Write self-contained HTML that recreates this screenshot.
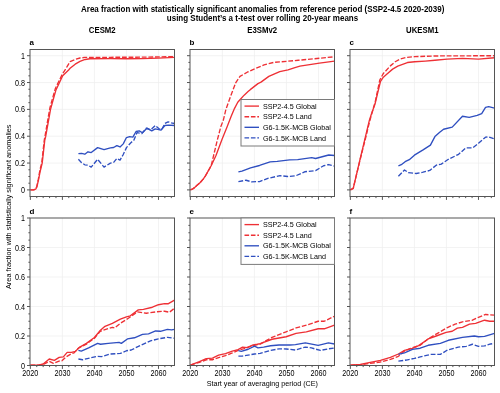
<!DOCTYPE html><html><head><meta charset="utf-8"><style>html,body{margin:0;padding:0;background:#fff;}svg{display:block;}text{font-family:"Liberation Sans",sans-serif;}svg{will-change:transform;}</style></head><body>
<svg width="500" height="393" viewBox="0 0 500 393">
<rect width="500" height="393" fill="#fff"/>
<text transform="translate(262.70 11.60) scale(1 1.07)" font-size="8.0" font-weight="bold" text-anchor="middle" fill="#000">Area fraction with statistically significant anomalies from reference period (SSP2-4.5 2020-2039)</text>
<text transform="translate(262.50 20.50) scale(1 1.07)" font-size="8.0" font-weight="bold" text-anchor="middle" fill="#000">using Student’s a t-test over rolling 20-year means</text>
<text transform="translate(102.25 33.00) scale(1 1.15)" font-size="7.8" font-weight="bold" text-anchor="middle" fill="#000">CESM2</text>
<text transform="translate(262.25 33.00) scale(1 1.15)" font-size="7.8" font-weight="bold" text-anchor="middle" fill="#000">E3SMv2</text>
<text transform="translate(422.25 33.00) scale(1 1.15)" font-size="7.8" font-weight="bold" text-anchor="middle" fill="#000">UKESM1</text>
<path d="M62.38 49.50V196.50M94.42 49.50V196.50M126.45 49.50V196.50M158.48 49.50V196.50M30.00 189.90H174.50M30.00 163.06H174.50M30.00 136.22H174.50M30.00 109.38H174.50M30.00 82.54H174.50M30.00 55.70H174.50" stroke="#eeeeee" stroke-width="0.7" fill="none"/>
<path d="M30.35 189.90 L33.55 189.90 L35.64 189.23 L36.76 187.22 L38.36 180.51 L39.96 172.45 L42.20 163.06 L44.77 140.11 L45.73 136.22 L48.61 120.12 L50.53 109.38 L53.09 99.99 L55.98 89.92 L59.50 82.54 L62.70 75.83 L68.63 69.93 L70.07 68.31 L75.20 64.15 L80.00 61.34 L85.13 59.46 L89.93 58.79 L110.43 58.65 L126.45 58.79 L142.47 58.65 L158.48 58.12 L174.50 57.31" stroke="#ee3035" stroke-width="1.35" fill="none" stroke-linejoin="round" clip-path="url(#clipa)"/>
<path d="M30.35 189.90 L33.55 189.90 L35.64 189.09 L36.76 186.55 L38.36 179.16 L39.96 169.77 L41.72 163.06 L44.28 140.11 L45.25 134.88 L47.97 118.77 L49.89 108.04 L52.45 98.64 L55.34 88.58 L58.86 81.20 L62.38 74.09 L65.59 69.12 L67.51 65.90 L70.07 61.74 L75.20 59.46 L80.00 57.98 L84.81 57.44 L110.43 57.31 L142.47 57.18 L174.50 56.64" stroke="#ee3035" stroke-width="1.35" fill="none" stroke-linejoin="round" stroke-dasharray="4.8 1.8" clip-path="url(#clipa)"/>
<path d="M78.40 153.67 L81.60 153.40 L84.81 154.20 L88.01 151.79 L91.21 152.59 L97.62 147.63 L104.03 149.64 L110.43 147.90 L113.64 147.49 L116.84 145.61 L120.04 146.96 L123.25 143.87 L126.45 137.56 L129.65 136.62 L132.86 137.16 L136.06 131.52 L139.26 130.85 L142.47 132.73 L146.95 128.17 L151.76 130.85 L155.28 128.84 L161.05 130.18 L164.89 125.48 L168.73 125.08 L174.50 125.48" stroke="#2f4fc0" stroke-width="1.35" fill="none" stroke-linejoin="round" clip-path="url(#clipa)"/>
<path d="M78.40 159.30 L81.60 162.66 L84.81 164.80 L88.01 165.21 L91.21 167.09 L97.62 159.30 L104.03 167.09 L110.43 163.06 L113.64 162.39 L116.84 158.50 L120.04 160.11 L123.25 154.47 L126.45 147.63 L130.61 142.93 L133.82 140.25 L137.02 132.60 L141.83 133.54 L146.31 128.17 L150.80 129.78 L155.28 125.48 L159.12 128.84 L161.69 129.51 L164.89 123.47 L168.09 121.86 L171.30 122.80 L174.50 123.47" stroke="#2f4fc0" stroke-width="1.35" fill="none" stroke-linejoin="round" stroke-dasharray="4.8 1.8" clip-path="url(#clipa)"/>
<clipPath id="clipa"><rect x="30.0" y="49.5" width="144.5" height="147.0"/></clipPath>
<path d="M30.35 196.50v3.4M36.76 196.50v1.6M43.16 196.50v1.6M49.57 196.50v1.6M55.98 196.50v1.6M62.38 196.50v3.4M68.79 196.50v1.6M75.20 196.50v1.6M81.60 196.50v1.6M88.01 196.50v1.6M94.42 196.50v3.4M100.82 196.50v1.6M107.23 196.50v1.6M113.64 196.50v1.6M120.04 196.50v1.6M126.45 196.50v3.4M132.86 196.50v1.6M139.26 196.50v1.6M145.67 196.50v1.6M152.08 196.50v1.6M158.48 196.50v3.4M164.89 196.50v1.6M171.30 196.50v1.6M30.00 189.90h-3M30.00 183.19h-1.6M30.00 176.48h-1.6M30.00 169.77h-1.6M30.00 163.06h-3M30.00 156.35h-1.6M30.00 149.64h-1.6M30.00 142.93h-1.6M30.00 136.22h-3M30.00 129.51h-1.6M30.00 122.80h-1.6M30.00 116.09h-1.6M30.00 109.38h-3M30.00 102.67h-1.6M30.00 95.96h-1.6M30.00 89.25h-1.6M30.00 82.54h-3M30.00 75.83h-1.6M30.00 69.12h-1.6M30.00 62.41h-1.6M30.00 55.70h-3" stroke="#555" stroke-width="1.0" fill="none"/>
<rect x="30.00" y="49.50" width="144.50" height="147.00" stroke="#555555" stroke-width="1.0" fill="none"/>
<text x="29.40" y="45.40" font-size="8" font-weight="bold">a</text>
<text transform="translate(24.90 192.90) scale(1 1.16)" font-size="7.2" text-anchor="end" fill="#000">0</text>
<text transform="translate(24.90 166.06) scale(1 1.16)" font-size="7.2" text-anchor="end" fill="#000">0.2</text>
<text transform="translate(24.90 139.22) scale(1 1.16)" font-size="7.2" text-anchor="end" fill="#000">0.4</text>
<text transform="translate(24.90 112.38) scale(1 1.16)" font-size="7.2" text-anchor="end" fill="#000">0.6</text>
<text transform="translate(24.90 85.54) scale(1 1.16)" font-size="7.2" text-anchor="end" fill="#000">0.8</text>
<text transform="translate(24.90 58.70) scale(1 1.16)" font-size="7.2" text-anchor="end" fill="#000">1</text>
<path d="M222.38 49.50V196.50M254.42 49.50V196.50M286.45 49.50V196.50M318.48 49.50V196.50M190.00 189.90H334.50M190.00 163.06H334.50M190.00 136.22H334.50M190.00 109.38H334.50M190.00 82.54H334.50M190.00 55.70H334.50" stroke="#eeeeee" stroke-width="0.7" fill="none"/>
<path d="M190.35 189.90 L192.27 189.23 L194.19 187.89 L196.76 185.61 L199.96 182.79 L203.16 179.16 L205.09 176.48 L211.17 165.74 L215.98 155.41 L222.06 139.31 L227.03 127.09 L231.19 116.36 L234.56 108.31 L237.76 102.27 L240.64 99.05 L244.17 95.15 L248.33 91.26 L250.25 89.65 L257.94 83.61 L260.98 82.14 L268.83 76.37 L279.72 71.54 L288.05 69.79 L294.14 67.78 L299.90 66.17 L319.44 63.08 L334.50 61.07" stroke="#ee3035" stroke-width="1.35" fill="none" stroke-linejoin="round" clip-path="url(#clipb)"/>
<path d="M190.35 189.90 L192.27 189.23 L194.19 187.89 L196.76 185.61 L199.96 182.79 L203.16 179.16 L205.09 176.48 L211.17 165.74 L217.26 140.25 L220.78 126.83 L223.34 120.12 L225.91 109.38 L230.71 95.96 L235.84 82.54 L240.00 76.37 L247.21 72.21 L255.06 68.58 L264.03 64.96 L273.64 62.41 L286.77 61.34 L298.30 60.26 L319.44 58.25 L334.50 56.77" stroke="#ee3035" stroke-width="1.35" fill="none" stroke-linejoin="round" stroke-dasharray="4.8 1.8" clip-path="url(#clipb)"/>
<path d="M238.40 171.92 L241.92 171.11 L250.57 167.89 L259.54 165.48 L270.11 161.85 L277.16 161.45 L289.65 159.84 L297.66 159.57 L311.76 157.69 L315.60 158.50 L328.73 155.01 L334.50 155.54" stroke="#2f4fc0" stroke-width="1.35" fill="none" stroke-linejoin="round" clip-path="url(#clipb)"/>
<path d="M238.40 181.58 L246.09 180.24 L251.53 181.85 L259.54 181.58 L267.87 178.36 L280.04 175.67 L287.73 176.48 L295.74 175.81 L304.71 171.78 L315.60 170.58 L323.61 165.74 L328.73 164.54 L334.50 166.15" stroke="#2f4fc0" stroke-width="1.35" fill="none" stroke-linejoin="round" stroke-dasharray="4.8 1.8" clip-path="url(#clipb)"/>
<clipPath id="clipb"><rect x="190.0" y="49.5" width="144.5" height="147.0"/></clipPath>
<path d="M190.35 196.50v3.4M196.76 196.50v1.6M203.16 196.50v1.6M209.57 196.50v1.6M215.98 196.50v1.6M222.38 196.50v3.4M228.79 196.50v1.6M235.20 196.50v1.6M241.60 196.50v1.6M248.01 196.50v1.6M254.42 196.50v3.4M260.82 196.50v1.6M267.23 196.50v1.6M273.64 196.50v1.6M280.04 196.50v1.6M286.45 196.50v3.4M292.86 196.50v1.6M299.26 196.50v1.6M305.67 196.50v1.6M312.08 196.50v1.6M318.48 196.50v3.4M324.89 196.50v1.6M331.30 196.50v1.6M190.00 189.90h-3M190.00 183.19h-1.6M190.00 176.48h-1.6M190.00 169.77h-1.6M190.00 163.06h-3M190.00 156.35h-1.6M190.00 149.64h-1.6M190.00 142.93h-1.6M190.00 136.22h-3M190.00 129.51h-1.6M190.00 122.80h-1.6M190.00 116.09h-1.6M190.00 109.38h-3M190.00 102.67h-1.6M190.00 95.96h-1.6M190.00 89.25h-1.6M190.00 82.54h-3M190.00 75.83h-1.6M190.00 69.12h-1.6M190.00 62.41h-1.6M190.00 55.70h-3" stroke="#555" stroke-width="1.0" fill="none"/>
<rect x="190.00" y="49.50" width="144.50" height="147.00" stroke="#555555" stroke-width="1.0" fill="none"/>
<text x="189.40" y="45.40" font-size="8" font-weight="bold">b</text>
<path d="M382.38 49.50V196.50M414.42 49.50V196.50M446.45 49.50V196.50M478.48 49.50V196.50M350.00 189.90H494.50M350.00 163.06H494.50M350.00 136.22H494.50M350.00 109.38H494.50M350.00 82.54H494.50M350.00 55.70H494.50" stroke="#eeeeee" stroke-width="0.7" fill="none"/>
<path d="M350.35 189.90 L353.23 188.29 L360.28 158.36 L366.37 132.87 L369.41 120.12 L371.17 114.75 L375.02 104.01 L377.58 93.28 L380.40 81.73 L383.34 77.17 L387.00 73.95 L392.63 69.12 L397.76 66.17 L407.37 62.54 L414.61 61.74 L425.31 61.07 L434.92 60.26 L447.09 59.06 L462.47 58.38 L478.48 59.06 L494.50 57.71" stroke="#ee3035" stroke-width="1.35" fill="none" stroke-linejoin="round" clip-path="url(#clipc)"/>
<path d="M350.35 189.90 L353.23 188.29 L360.28 159.03 L366.37 134.88 L369.25 122.80 L371.49 114.75 L375.34 101.33 L377.58 90.59 L379.79 79.99 L383.41 73.41 L390.62 65.63 L395.20 61.74 L400.19 59.06 L406.22 57.44 L414.61 56.64 L434.92 55.97 L494.50 55.70" stroke="#ee3035" stroke-width="1.35" fill="none" stroke-linejoin="round" stroke-dasharray="4.8 1.8" clip-path="url(#clipc)"/>
<path d="M398.40 165.88 L401.28 164.67 L405.13 161.72 L409.29 159.71 L414.42 155.14 L423.07 149.91 L430.43 145.08 L434.92 136.62 L439.72 132.19 L443.57 129.24 L452.22 127.09 L462.47 116.22 L469.19 117.43 L477.20 115.42 L481.69 113.54 L485.53 107.37 L488.73 106.70 L494.50 108.04" stroke="#2f4fc0" stroke-width="1.35" fill="none" stroke-linejoin="round" clip-path="url(#clipc)"/>
<path d="M398.40 176.21 L404.49 170.04 L408.33 172.59 L416.34 173.53 L423.07 172.19 L429.79 170.44 L436.20 165.21 L441.32 164.13 L448.37 159.30 L458.62 154.34 L465.67 147.90 L472.72 147.90 L478.48 143.33 L485.53 137.16 L488.73 136.89 L494.50 138.90" stroke="#2f4fc0" stroke-width="1.35" fill="none" stroke-linejoin="round" stroke-dasharray="4.8 1.8" clip-path="url(#clipc)"/>
<clipPath id="clipc"><rect x="350.0" y="49.5" width="144.5" height="147.0"/></clipPath>
<path d="M350.35 196.50v3.4M356.76 196.50v1.6M363.16 196.50v1.6M369.57 196.50v1.6M375.98 196.50v1.6M382.38 196.50v3.4M388.79 196.50v1.6M395.20 196.50v1.6M401.60 196.50v1.6M408.01 196.50v1.6M414.42 196.50v3.4M420.82 196.50v1.6M427.23 196.50v1.6M433.64 196.50v1.6M440.04 196.50v1.6M446.45 196.50v3.4M452.86 196.50v1.6M459.26 196.50v1.6M465.67 196.50v1.6M472.08 196.50v1.6M478.48 196.50v3.4M484.89 196.50v1.6M491.30 196.50v1.6M350.00 189.90h-3M350.00 183.19h-1.6M350.00 176.48h-1.6M350.00 169.77h-1.6M350.00 163.06h-3M350.00 156.35h-1.6M350.00 149.64h-1.6M350.00 142.93h-1.6M350.00 136.22h-3M350.00 129.51h-1.6M350.00 122.80h-1.6M350.00 116.09h-1.6M350.00 109.38h-3M350.00 102.67h-1.6M350.00 95.96h-1.6M350.00 89.25h-1.6M350.00 82.54h-3M350.00 75.83h-1.6M350.00 69.12h-1.6M350.00 62.41h-1.6M350.00 55.70h-3" stroke="#555" stroke-width="1.0" fill="none"/>
<rect x="350.00" y="49.50" width="144.50" height="147.00" stroke="#555555" stroke-width="1.0" fill="none"/>
<text x="349.40" y="45.40" font-size="8" font-weight="bold">c</text>
<path d="M62.38 218.00V365.50M94.42 218.00V365.50M126.45 218.00V365.50M158.48 218.00V365.50M30.00 336.00H174.50M30.00 306.50H174.50M30.00 277.00H174.50M30.00 247.50H174.50" stroke="#eeeeee" stroke-width="0.7" fill="none"/>
<path d="M30.35 365.06 L38.36 365.06 L43.16 364.02 L49.25 359.01 L54.38 360.34 L59.18 357.39 L63.34 356.94 L67.19 352.37 L71.35 352.37 L75.52 351.34 L79.36 347.36 L86.41 343.38 L94.42 337.48 L99.86 330.84 L104.99 326.26 L112.36 323.31 L120.36 319.19 L126.45 316.82 L130.29 315.79 L138.30 309.89 L143.43 309.30 L152.40 307.24 L158.48 304.73 L164.57 303.70 L168.41 303.70 L174.50 300.16" stroke="#ee3035" stroke-width="1.35" fill="none" stroke-linejoin="round" clip-path="url(#clipd)"/>
<path d="M30.35 365.06 L38.36 365.06 L43.16 364.47 L49.25 361.37 L53.41 363.44 L58.99 361.07 L61.90 360.78 L66.23 356.80 L71.19 353.85 L74.11 352.81 L78.40 348.10 L86.41 344.11 L94.42 338.21 L100.18 331.28 L112.36 327.30 L114.60 327.89 L120.36 323.31 L128.37 318.30 L137.34 311.81 L146.31 313.29 L156.56 311.81 L164.57 311.22 L169.37 312.25 L174.50 308.27" stroke="#ee3035" stroke-width="1.35" fill="none" stroke-linejoin="round" stroke-dasharray="4.8 1.8" clip-path="url(#clipd)"/>
<path d="M78.40 350.45 L81.28 351.05 L88.65 347.95 L97.62 343.38 L100.50 344.26 L108.19 343.38 L119.08 342.34 L121.32 343.38 L127.41 338.95 L134.46 337.77 L142.47 334.38 L148.55 333.94 L155.60 330.99 L160.41 331.28 L167.45 329.36 L171.62 329.95 L174.50 329.36" stroke="#2f4fc0" stroke-width="1.35" fill="none" stroke-linejoin="round" clip-path="url(#clipd)"/>
<path d="M78.40 359.01 L82.56 359.75 L92.49 357.39 L96.98 356.36 L101.46 356.65 L110.43 354.00 L120.36 353.40 L126.45 350.75 L131.25 350.01 L140.22 345.44 L150.48 340.87 L158.48 338.80 L167.45 337.33 L174.50 338.21" stroke="#2f4fc0" stroke-width="1.35" fill="none" stroke-linejoin="round" stroke-dasharray="4.8 1.8" clip-path="url(#clipd)"/>
<clipPath id="clipd"><rect x="30.0" y="218.0" width="144.5" height="147.5"/></clipPath>
<path d="M30.35 365.50v3.4M36.76 365.50v1.6M43.16 365.50v1.6M49.57 365.50v1.6M55.98 365.50v1.6M62.38 365.50v3.4M68.79 365.50v1.6M75.20 365.50v1.6M81.60 365.50v1.6M88.01 365.50v1.6M94.42 365.50v3.4M100.82 365.50v1.6M107.23 365.50v1.6M113.64 365.50v1.6M120.04 365.50v1.6M126.45 365.50v3.4M132.86 365.50v1.6M139.26 365.50v1.6M145.67 365.50v1.6M152.08 365.50v1.6M158.48 365.50v3.4M164.89 365.50v1.6M171.30 365.50v1.6M30.00 365.50h-3M30.00 358.12h-1.6M30.00 350.75h-1.6M30.00 343.38h-1.6M30.00 336.00h-3M30.00 328.62h-1.6M30.00 321.25h-1.6M30.00 313.88h-1.6M30.00 306.50h-3M30.00 299.12h-1.6M30.00 291.75h-1.6M30.00 284.38h-1.6M30.00 277.00h-3M30.00 269.62h-1.6M30.00 262.25h-1.6M30.00 254.88h-1.6M30.00 247.50h-3M30.00 240.12h-1.6M30.00 232.75h-1.6M30.00 225.38h-1.6M30.00 218.00h-3" stroke="#555" stroke-width="1.0" fill="none"/>
<rect x="30.00" y="218.00" width="144.50" height="147.50" stroke="#555555" stroke-width="1.0" fill="none"/>
<text x="29.40" y="213.90" font-size="8" font-weight="bold">d</text>
<text transform="translate(24.90 368.50) scale(1 1.16)" font-size="7.2" text-anchor="end" fill="#000">0</text>
<text transform="translate(24.90 339.00) scale(1 1.16)" font-size="7.2" text-anchor="end" fill="#000">0.2</text>
<text transform="translate(24.90 309.50) scale(1 1.16)" font-size="7.2" text-anchor="end" fill="#000">0.4</text>
<text transform="translate(24.90 280.00) scale(1 1.16)" font-size="7.2" text-anchor="end" fill="#000">0.6</text>
<text transform="translate(24.90 250.50) scale(1 1.16)" font-size="7.2" text-anchor="end" fill="#000">0.8</text>
<text transform="translate(24.90 221.00) scale(1 1.16)" font-size="7.2" text-anchor="end" fill="#000">1</text>
<text transform="translate(30.35 375.90) scale(1 1.16)" font-size="7.2" text-anchor="middle" fill="#000">2020</text>
<text transform="translate(62.38 375.90) scale(1 1.16)" font-size="7.2" text-anchor="middle" fill="#000">2030</text>
<text transform="translate(94.42 375.90) scale(1 1.16)" font-size="7.2" text-anchor="middle" fill="#000">2040</text>
<text transform="translate(126.45 375.90) scale(1 1.16)" font-size="7.2" text-anchor="middle" fill="#000">2050</text>
<text transform="translate(158.48 375.90) scale(1 1.16)" font-size="7.2" text-anchor="middle" fill="#000">2060</text>
<path d="M222.38 218.00V365.50M254.42 218.00V365.50M286.45 218.00V365.50M318.48 218.00V365.50M190.00 336.00H334.50M190.00 306.50H334.50M190.00 277.00H334.50M190.00 247.50H334.50" stroke="#eeeeee" stroke-width="0.7" fill="none"/>
<path d="M190.35 365.06 L199.42 361.52 L206.21 358.57 L212.45 358.12 L218.64 355.18 L225.46 353.55 L232.31 351.19 L238.08 349.57 L242.56 347.21 L247.37 347.65 L253.14 344.85 L257.30 344.26 L260.18 343.67 L272.03 339.25 L286.13 336.74 L296.06 333.35 L306.31 331.87 L318.16 328.77 L324.25 328.77 L334.50 325.23" stroke="#ee3035" stroke-width="1.35" fill="none" stroke-linejoin="round" clip-path="url(#clipe)"/>
<path d="M190.35 365.06 L199.42 362.40 L206.21 359.75 L212.45 359.75 L218.64 357.54 L225.46 355.62 L232.31 352.96 L238.08 350.31 L244.17 348.69 L250.25 346.32 L260.18 344.11 L272.03 337.33 L286.13 331.87 L296.06 327.89 L308.23 324.64 L318.16 321.25 L324.25 321.25 L334.50 316.24" stroke="#ee3035" stroke-width="1.35" fill="none" stroke-linejoin="round" stroke-dasharray="4.8 1.8" clip-path="url(#clipe)"/>
<path d="M238.40 350.60 L241.28 351.34 L248.20 349.27 L254.51 346.03 L258.00 347.80 L263.61 347.06 L270.59 345.74 L278.99 345.00 L289.97 345.00 L295.42 344.70 L305.35 342.93 L318.16 345.29 L328.41 342.93 L334.50 343.96" stroke="#2f4fc0" stroke-width="1.35" fill="none" stroke-linejoin="round" clip-path="url(#clipe)"/>
<path d="M238.40 356.06 L242.24 356.06 L254.42 354.00 L260.18 353.40 L270.11 350.45 L279.08 348.83 L286.13 348.98 L295.42 350.01 L305.35 347.06 L311.44 347.95 L320.41 350.45 L328.41 348.83 L334.50 347.95" stroke="#2f4fc0" stroke-width="1.35" fill="none" stroke-linejoin="round" stroke-dasharray="4.8 1.8" clip-path="url(#clipe)"/>
<clipPath id="clipe"><rect x="190.0" y="218.0" width="144.5" height="147.5"/></clipPath>
<path d="M190.35 365.50v3.4M196.76 365.50v1.6M203.16 365.50v1.6M209.57 365.50v1.6M215.98 365.50v1.6M222.38 365.50v3.4M228.79 365.50v1.6M235.20 365.50v1.6M241.60 365.50v1.6M248.01 365.50v1.6M254.42 365.50v3.4M260.82 365.50v1.6M267.23 365.50v1.6M273.64 365.50v1.6M280.04 365.50v1.6M286.45 365.50v3.4M292.86 365.50v1.6M299.26 365.50v1.6M305.67 365.50v1.6M312.08 365.50v1.6M318.48 365.50v3.4M324.89 365.50v1.6M331.30 365.50v1.6M190.00 365.50h-3M190.00 358.12h-1.6M190.00 350.75h-1.6M190.00 343.38h-1.6M190.00 336.00h-3M190.00 328.62h-1.6M190.00 321.25h-1.6M190.00 313.88h-1.6M190.00 306.50h-3M190.00 299.12h-1.6M190.00 291.75h-1.6M190.00 284.38h-1.6M190.00 277.00h-3M190.00 269.62h-1.6M190.00 262.25h-1.6M190.00 254.88h-1.6M190.00 247.50h-3M190.00 240.12h-1.6M190.00 232.75h-1.6M190.00 225.38h-1.6M190.00 218.00h-3" stroke="#555" stroke-width="1.0" fill="none"/>
<rect x="190.00" y="218.00" width="144.50" height="147.50" stroke="#555555" stroke-width="1.0" fill="none"/>
<text x="189.40" y="213.90" font-size="8" font-weight="bold">e</text>
<text transform="translate(190.35 375.90) scale(1 1.16)" font-size="7.2" text-anchor="middle" fill="#000">2020</text>
<text transform="translate(222.38 375.90) scale(1 1.16)" font-size="7.2" text-anchor="middle" fill="#000">2030</text>
<text transform="translate(254.42 375.90) scale(1 1.16)" font-size="7.2" text-anchor="middle" fill="#000">2040</text>
<text transform="translate(286.45 375.90) scale(1 1.16)" font-size="7.2" text-anchor="middle" fill="#000">2050</text>
<text transform="translate(318.48 375.90) scale(1 1.16)" font-size="7.2" text-anchor="middle" fill="#000">2060</text>
<path d="M382.38 218.00V365.50M414.42 218.00V365.50M446.45 218.00V365.50M478.48 218.00V365.50M350.00 336.00H494.50M350.00 306.50H494.50M350.00 277.00H494.50M350.00 247.50H494.50" stroke="#eeeeee" stroke-width="0.7" fill="none"/>
<path d="M350.35 365.06 L360.28 364.47 L370.21 362.40 L380.46 360.34 L390.39 357.39 L398.40 354.00 L404.49 350.45 L412.49 348.39 L418.58 345.59 L428.19 338.95 L436.20 336.00 L446.13 332.31 L452.22 331.28 L457.34 328.18 L462.47 327.30 L469.51 324.20 L475.60 323.31 L484.57 320.22 L489.69 321.25 L494.50 321.25" stroke="#ee3035" stroke-width="1.35" fill="none" stroke-linejoin="round" clip-path="url(#clipf)"/>
<path d="M350.35 365.06 L360.28 364.76 L370.21 363.44 L380.46 361.96 L390.39 359.45 L398.40 356.36 L404.49 351.05 L410.57 348.39 L420.18 345.29 L428.19 338.80 L437.99 333.05 L447.89 327.30 L455.10 324.20 L462.47 321.84 L472.40 320.22 L478.48 317.27 L485.53 314.47 L494.50 315.20" stroke="#ee3035" stroke-width="1.35" fill="none" stroke-linejoin="round" stroke-dasharray="4.8 1.8" clip-path="url(#clipf)"/>
<path d="M398.40 354.44 L404.49 352.81 L412.49 349.42 L420.18 348.24 L428.19 345.29 L440.36 343.38 L448.37 340.28 L462.47 337.33 L474.32 336.00 L478.48 336.74 L484.57 336.30 L494.50 333.35" stroke="#2f4fc0" stroke-width="1.35" fill="none" stroke-linejoin="round" clip-path="url(#clipf)"/>
<path d="M398.40 361.07 L406.41 360.04 L414.42 358.42 L420.18 356.94 L430.43 354.44 L440.36 354.44 L447.41 350.01 L458.30 347.06 L466.31 346.32 L472.40 344.26 L478.48 346.32 L484.57 345.88 L490.66 343.96 L494.50 343.38" stroke="#2f4fc0" stroke-width="1.35" fill="none" stroke-linejoin="round" stroke-dasharray="4.8 1.8" clip-path="url(#clipf)"/>
<clipPath id="clipf"><rect x="350.0" y="218.0" width="144.5" height="147.5"/></clipPath>
<path d="M350.35 365.50v3.4M356.76 365.50v1.6M363.16 365.50v1.6M369.57 365.50v1.6M375.98 365.50v1.6M382.38 365.50v3.4M388.79 365.50v1.6M395.20 365.50v1.6M401.60 365.50v1.6M408.01 365.50v1.6M414.42 365.50v3.4M420.82 365.50v1.6M427.23 365.50v1.6M433.64 365.50v1.6M440.04 365.50v1.6M446.45 365.50v3.4M452.86 365.50v1.6M459.26 365.50v1.6M465.67 365.50v1.6M472.08 365.50v1.6M478.48 365.50v3.4M484.89 365.50v1.6M491.30 365.50v1.6M350.00 365.50h-3M350.00 358.12h-1.6M350.00 350.75h-1.6M350.00 343.38h-1.6M350.00 336.00h-3M350.00 328.62h-1.6M350.00 321.25h-1.6M350.00 313.88h-1.6M350.00 306.50h-3M350.00 299.12h-1.6M350.00 291.75h-1.6M350.00 284.38h-1.6M350.00 277.00h-3M350.00 269.62h-1.6M350.00 262.25h-1.6M350.00 254.88h-1.6M350.00 247.50h-3M350.00 240.12h-1.6M350.00 232.75h-1.6M350.00 225.38h-1.6M350.00 218.00h-3" stroke="#555" stroke-width="1.0" fill="none"/>
<rect x="350.00" y="218.00" width="144.50" height="147.50" stroke="#555555" stroke-width="1.0" fill="none"/>
<text x="349.40" y="213.90" font-size="8" font-weight="bold">f</text>
<text transform="translate(350.35 375.90) scale(1 1.16)" font-size="7.2" text-anchor="middle" fill="#000">2020</text>
<text transform="translate(382.38 375.90) scale(1 1.16)" font-size="7.2" text-anchor="middle" fill="#000">2030</text>
<text transform="translate(414.42 375.90) scale(1 1.16)" font-size="7.2" text-anchor="middle" fill="#000">2040</text>
<text transform="translate(446.45 375.90) scale(1 1.16)" font-size="7.2" text-anchor="middle" fill="#000">2050</text>
<text transform="translate(478.48 375.90) scale(1 1.16)" font-size="7.2" text-anchor="middle" fill="#000">2060</text>
<rect x="241.00" y="99.50" width="93.50" height="46.50" fill="#fff" stroke="#7a7a7a" stroke-width="1"/>
<path d="M244.5 106.10H259" stroke="#ee3035" stroke-width="1.35"/>
<text transform="translate(263.00 108.70) scale(1 1.1)" font-size="7.2" fill="#000">SSP2-4.5 Global</text>
<path d="M244.5 116.70H259" stroke="#ee3035" stroke-width="1.35" stroke-dasharray="4.6 1.8"/>
<text transform="translate(263.00 119.30) scale(1 1.1)" font-size="7.2" fill="#000">SSP2-4.5 Land</text>
<path d="M244.5 127.30H259" stroke="#2f4fc0" stroke-width="1.35"/>
<text transform="translate(263.00 129.90) scale(1 1.1)" font-size="7.2" fill="#000">G6-1.5K-MCB Global</text>
<path d="M244.5 137.90H259" stroke="#2f4fc0" stroke-width="1.35" stroke-dasharray="4.6 1.8"/>
<text transform="translate(263.00 140.50) scale(1 1.1)" font-size="7.2" fill="#000">G6-1.5K-MCB Land</text>
<rect x="241.00" y="218.00" width="93.50" height="46.40" fill="#fff" stroke="#7a7a7a" stroke-width="1"/>
<path d="M244.5 224.60H259" stroke="#ee3035" stroke-width="1.35"/>
<text transform="translate(263.00 227.20) scale(1 1.1)" font-size="7.2" fill="#000">SSP2-4.5 Global</text>
<path d="M244.5 235.20H259" stroke="#ee3035" stroke-width="1.35" stroke-dasharray="4.6 1.8"/>
<text transform="translate(263.00 237.80) scale(1 1.1)" font-size="7.2" fill="#000">SSP2-4.5 Land</text>
<path d="M244.5 245.80H259" stroke="#2f4fc0" stroke-width="1.35"/>
<text transform="translate(263.00 248.40) scale(1 1.1)" font-size="7.2" fill="#000">G6-1.5K-MCB Global</text>
<path d="M244.5 256.40H259" stroke="#2f4fc0" stroke-width="1.35" stroke-dasharray="4.6 1.8"/>
<text transform="translate(263.00 259.00) scale(1 1.1)" font-size="7.2" fill="#000">G6-1.5K-MCB Land</text>
<text transform="translate(10.7 206.8) rotate(-90) scale(1 1.1)" font-size="7.35" text-anchor="middle" fill="#000">Area fraction with statistically significant anomalies</text>
<text transform="translate(262.30 386.40) scale(1 1.1)" font-size="7.2" text-anchor="middle" fill="#000">Start year of averaging period (CE)</text>
</svg></body></html>
